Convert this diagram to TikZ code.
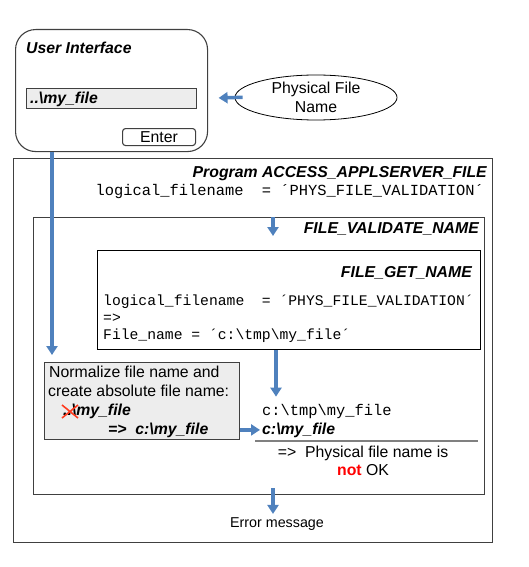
\documentclass[tikz,border=0pt]{standalone}
\usepackage{fontspec}
\setmainfont{Liberation Sans}
\setmonofont{Liberation Mono}
\usetikzlibrary{arrows.meta,shapes.geometric}
\definecolor{arrblue}{HTML}{4F81BD}
\definecolor{boxgray}{HTML}{404040}
\definecolor{fillgray}{HTML}{EDEDED}
\definecolor{xred}{HTML}{FF3B1F}
\begin{document}
\begin{tikzpicture}[x=1pt,y=-1pt,
  arr/.style={draw=arrblue, line width=3.5pt, -{Triangle[width=11pt,length=9pt]}},
  frame/.style={draw=boxgray, line width=1.1pt, inner sep=0pt},
  lbl/.style={inner sep=0pt, font=\fontsize{15.8}{19}\selectfont},
  bi/.style={inner sep=0pt, font=\fontsize{15.8}{19}\selectfont\bfseries\itshape},
  mono/.style={inner sep=0pt, font=\fontsize{14.7}{17}\selectfont\ttfamily},
  bigmono/.style={inner sep=0pt, font=\fontsize{15.4}{17}\selectfont\ttfamily},
]
\useasboundingbox (0,0) rectangle (529,567);

% User interface
\node[frame, rounded corners=20pt, minimum width=192pt, minimum height=122pt, anchor=north west] (ui) at (15,29) {};
\node[bi, anchor=base west] (uititle) at (26,54) {User Interface};
\node[frame, fill=fillgray, minimum width=170pt, minimum height=20pt, anchor=north west] (field) at (25.5,88) {};
\node[bi, anchor=base west] (fieldtext) at (30,103) {..\textbackslash my\_file};
\node[frame, rounded corners=3pt, minimum width=73pt, minimum height=17pt, anchor=north west, lbl] (enter) at (122,128) {Enter};

% Physical file name
\node[draw=black, line width=0.8pt, ellipse, minimum width=162pt, minimum height=45pt, inner sep=0pt, align=center, lbl] (phys) at (316,97.5) {Physical File\\Name};

% Program box
\node[frame, minimum width=479pt, minimum height=384pt, anchor=north west] (prog) at (13,158) {};
\node[bi, anchor=base east] (progtitle) at (487,177) {Program ACCESS\_APPLSERVER\_FILE};
\node[bigmono, anchor=base east] (proglog) at (484,195) {logical\_filename\ \ = ´PHYS\_FILE\_VALIDATION´};

% FILE_VALIDATE_NAME
\node[frame, minimum width=451pt, minimum height=277pt, anchor=north west] (fvn) at (33,217) {};
\node[bi, anchor=base east] (fvntitle) at (479,233) {FILE\_VALIDATE\_NAME};

% FILE_GET_NAME
\node[draw=black, line width=1.1pt, inner sep=0pt, minimum width=383pt, minimum height=99pt, anchor=north west] (fgn) at (97,250) {};
\node[bi, anchor=base east] (fgntitle) at (472,277) {FILE\_GET\_NAME};
\node[mono, anchor=base west] (code1) at (103,305) {logical\_filename\ \ = ´PHYS\_FILE\_VALIDATION´};
\node[mono, anchor=base west] (code2) at (103,322) {=>};
\node[mono, anchor=base west] (code3) at (103,339) {File\_name = ´c:\textbackslash tmp\textbackslash my\_file´};

% Normalize box
\node[frame, fill=fillgray, minimum width=195pt, minimum height=77pt, anchor=north west] (norm) at (44,362) {};
\node[lbl, anchor=base west] (n1) at (49,377) {Normalize file name and};
\node[lbl, anchor=base west] (n2) at (48,396) {create absolute file name:};
\node[bi, anchor=base west] (n3) at (63,415) {..\textbackslash my\_file};
\node[bi, anchor=base west] (n4) at (108,434) {=>\ \ c:\textbackslash my\_file};
\draw[xred, line width=1.6pt] (62,405) -- (78,418) (62,418) -- (78,405);

% Results
\node[bigmono, anchor=base west] (res1) at (262,415) {c:\textbackslash tmp\textbackslash my\_file};
\node[bi, anchor=base west] (res2) at (262,434) {c:\textbackslash my\_file};
\draw[black!50, line width=1.8pt] (255,441) -- (478,441);
\node[lbl, anchor=base] (ok1) at (363,457) {=>\ \ Physical file name is};
\node[lbl, anchor=base] (ok2) at (363,475) {\textcolor{red}{\bfseries not} OK};

\node[inner sep=0pt, font=\fontsize{14.3}{17}\selectfont, anchor=base] (err) at (277,527) {Error message};

% Connectors
\coordinate (lx) at (52,0);
\coordinate (mx) at (273,0);
\coordinate (rx) at (276,0);
\coordinate (a3end) at (273,236);
\draw[arr, shorten <=-8pt, shorten >=22pt] (phys.west) -- (field.east);
\draw[arr, shorten >=7pt] (ui.south -| lx) -- (norm.north -| lx);
\draw[arr] (fvn.north -| mx) -- (a3end);
\draw[arr, shorten >=7pt] (fgn.south -| rx) -- (res1.north -| rx);
\draw[arr, shorten >=2pt] (norm.east |- res2.west) -- (res2.west);
\draw[arr, shorten <=-7pt, shorten >=3pt] (fvn.south -| mx) -- (err.north -| mx);
\end{tikzpicture}
\end{document}
